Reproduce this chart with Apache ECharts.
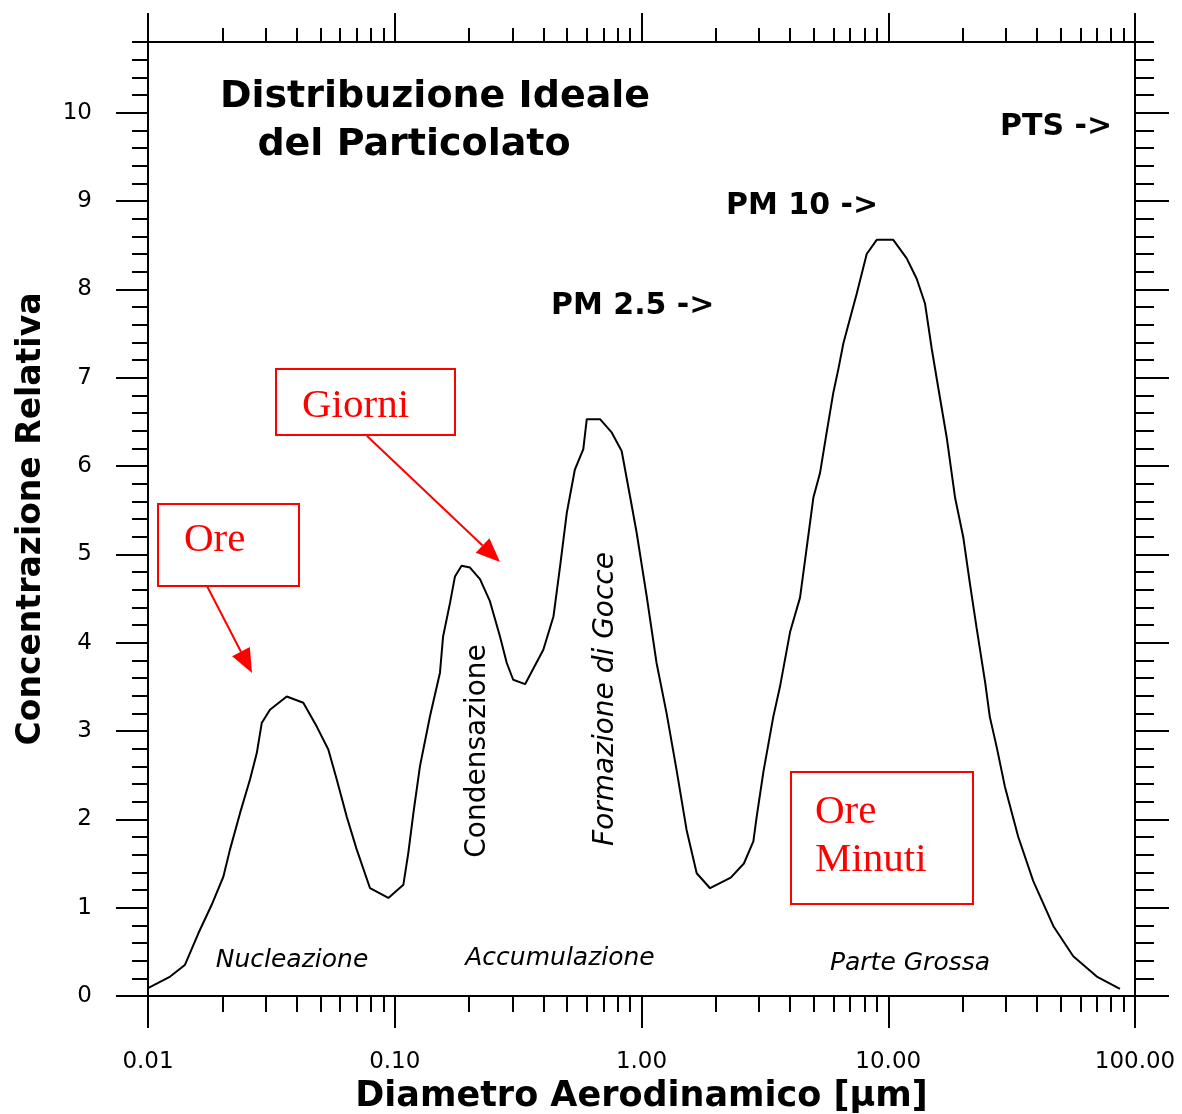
<!DOCTYPE html>
<html>
<head>
<meta charset="utf-8">
<title>Distribuzione Ideale del Particolato</title>
<script src="https://cdn.jsdelivr.net/npm/echarts@6/dist/echarts.min.js"></script>
<style>
  html, body { margin: 0; padding: 0; background: #fff; }
  #chart { width: 1182px; height: 1114px; }
</style>
</head>
<body>
<div id="chart"></div>
<script>
// diametro aerodinamico [um] e concentrazione relativa
var diametro = [
  0.01, 0.0123, 0.0141, 0.016, 0.0181, 0.0202, 0.0215, 0.0236, 0.0259, 0.0276,
  0.0289, 0.0312, 0.0365, 0.0426, 0.0483, 0.0538, 0.0582, 0.0639, 0.0701, 0.0794,
  0.0942, 0.1084, 0.1135, 0.119, 0.1265, 0.139, 0.1525, 0.157, 0.1675, 0.1754,
  0.1866, 0.2018, 0.2215, 0.243, 0.267, 0.2844, 0.302, 0.3374, 0.40, 0.44,
  0.468, 0.498, 0.537, 0.581, 0.60, 0.679, 0.757, 0.831, 0.898, 0.955,
  1.049, 1.151, 1.264, 1.387, 1.523, 1.674, 1.896, 2.3, 2.6, 2.84,
  2.93, 3.12, 3.42, 3.64, 4.0, 4.39, 4.67, 4.97, 5.29, 5.62,
  5.98, 6.28, 6.58, 7.0, 7.45, 8.18, 8.98, 10.48, 11.88, 13.04,
  14.09, 15.0, 15.96, 17.26, 18.66, 20.15, 21.4, 22.8, 24.7, 25.8,
  27.5, 29.7, 33.65, 38.7, 46.7, 56.2, 70, 86.9
];
var concentrazione = [
  0.09, 0.22, 0.35, 0.71, 1.03, 1.35, 1.66, 2.07, 2.45, 2.75,
  3.09, 3.24, 3.39, 3.32, 3.05, 2.79, 2.45, 2.03, 1.66, 1.22,
  1.11, 1.26, 1.62, 2.07, 2.6, 3.17, 3.66, 4.07, 4.45, 4.75,
  4.87, 4.85, 4.72, 4.47, 4.07, 3.77, 3.58, 3.53, 3.92, 4.3,
  4.87, 5.47, 5.96, 6.19, 6.53, 6.53, 6.38, 6.17, 5.66, 5.25,
  4.53, 3.77, 3.2, 2.56, 1.88, 1.39, 1.22, 1.34, 1.5, 1.75,
  2.03, 2.54, 3.16, 3.5, 4.12, 4.51, 5.07, 5.64, 5.92, 6.37,
  6.82, 7.1, 7.39, 7.67, 7.95, 8.4, 8.56, 8.56, 8.35, 8.12,
  7.84, 7.33, 6.88, 6.32, 5.64, 5.19, 4.68, 4.17, 3.55, 3.16,
  2.82, 2.37, 1.8, 1.3, 0.79, 0.45, 0.22, 0.08
];

var yMajor = [0, 1, 2, 3, 4, 5, 6, 7, 8, 9, 10];

// tacche minori: 2..9 per decade (in log10) e ogni 0.2 sulle y
var xMinorLog = [];
[0.01, 0.1, 1, 10].forEach(function (d) {
  for (var k = 2; k <= 9; k++) xMinorLog.push(Math.log10(k * d));
});
var yMinor = [];
for (var i = 1; i <= 54; i++) { if (i % 5 !== 0) yMinor.push(+(i * 0.2).toFixed(1)); }

var font = 'DejaVu Sans';
var lineStyle = { color: '#000', width: 2 };

function arrow(x1, y1, x2, y2) {
  var a = Math.atan2(y2 - y1, x2 - x1), len = 24, w = 10;
  var bx = x2 - len * Math.cos(a), by = y2 - len * Math.sin(a);
  var px = -Math.sin(a) * w, py = Math.cos(a) * w;
  return [
    { type: 'line', shape: { x1: x1, y1: y1, x2: bx, y2: by }, style: { stroke: '#f00', lineWidth: 2 } },
    { type: 'polygon', shape: { points: [[x2, y2], [bx + px, by + py], [bx - px, by - py]] }, style: { fill: '#f00' } }
  ];
}

function box(x, y, w, h) {
  return { type: 'rect', shape: { x: x, y: y, width: w, height: h }, style: { fill: 'none', stroke: '#f00', lineWidth: 2 } };
}

function txt(s, x, y, size, opt) {
  opt = opt || {};
  return {
    type: 'text', x: x, y: y, rotation: opt.rot || 0,
    style: {
      text: s, x: 0, y: 0,
      fontFamily: opt.family || font, fontSize: size,
      fontWeight: opt.bold ? 'bold' : 'normal',
      fontStyle: opt.italic ? 'italic' : 'normal',
      fill: opt.color || '#000',
      align: opt.align || 'center', verticalAlign: 'middle'
    }
  };
}

function minorAxis(pos, len, values, extra) {
  var ax = {
    type: 'value', position: pos,
    axisLine: { show: false, onZero: false },
    axisTick: { show: true, length: len, customValues: values, lineStyle: lineStyle },
    axisLabel: { show: false }, splitLine: { show: false }
  };
  return Object.assign(ax, extra);
}

var chart = echarts.init(document.getElementById('chart'));

var option = {
  backgroundColor: '#fff',
  animation: false,
  grid: { left: 148, right: 47, top: 42, bottom: 118, containLabel: false, outerBoundsMode: 'none' },
  xAxis: [
    {
      type: 'log', logBase: 10, min: 0.01, max: 100, position: 'bottom',
      name: 'Diametro Aerodinamico [\u03bcm]', nameLocation: 'middle', nameGap: 83,
      nameTextStyle: { fontFamily: font, fontSize: 35, fontWeight: 'bold', color: '#000' },
      axisLine: { onZero: false, lineStyle: lineStyle },
      axisTick: { length: 32, lineStyle: lineStyle },
      axisLabel: {
        margin: 55, fontFamily: font, fontSize: 23, color: '#000',
        formatter: function (v) { return (+v).toFixed(2); }
      },
      splitLine: { show: false }
    },
    minorAxis('bottom', 16, xMinorLog, { min: -2, max: 2 }),
    {
      type: 'log', logBase: 10, min: 0.01, max: 100, position: 'top',
      axisLine: { onZero: false, lineStyle: lineStyle },
      axisTick: { length: 29, lineStyle: lineStyle },
      axisLabel: { show: false }, splitLine: { show: false }
    },
    minorAxis('top', 14, xMinorLog, { min: -2, max: 2 })
  ],
  yAxis: [
    {
      type: 'value', min: 0, max: 10.8, position: 'left',
      name: 'Concentrazione Relativa', nameLocation: 'middle', nameGap: 100,
      nameTextStyle: { fontFamily: font, fontSize: 33, fontWeight: 'bold', color: '#000' },
      axisLine: { show: true, onZero: false, lineStyle: lineStyle },
      axisTick: { show: true, length: 32, customValues: yMajor, lineStyle: lineStyle },
      axisLabel: { margin: 56, fontFamily: font, fontSize: 23, color: '#000', customValues: yMajor },
      splitLine: { show: false }
    },
    minorAxis('left', 16, yMinor, { min: 0, max: 10.8 }),
    {
      type: 'value', min: 0, max: 10.8, position: 'right',
      axisLine: { show: true, onZero: false, lineStyle: lineStyle },
      axisTick: { show: true, length: 34, customValues: yMajor, lineStyle: lineStyle },
      axisLabel: { show: false }, splitLine: { show: false }
    },
    minorAxis('right', 19, yMinor, { min: 0, max: 10.8 })
  ],
  series: [{
    type: 'line',
    xAxisIndex: 0, yAxisIndex: 0,
    data: diametro.map(function (d, i) { return [d, concentrazione[i]]; }),
    showSymbol: false,
    smooth: false,
    lineStyle: { color: '#000', width: 2 }
  }],
  graphic: [].concat(
    [
      txt('Distribuzione Ideale', 435, 97, 38, { bold: true }),
      txt('del Particolato', 414, 145, 38, { bold: true }),
      txt('PTS ->', 1000, 127, 30, { bold: true, align: 'left' }),
      txt('PM 10 ->', 726, 206, 30, { bold: true, align: 'left' }),
      txt('PM 2.5 ->', 551, 306, 30, { bold: true, align: 'left' }),
      txt('Nucleazione', 292, 960, 25, { italic: true }),
      txt('Accumulazione', 560, 958, 25, { italic: true }),
      txt('Parte Grossa', 910, 963, 25, { italic: true }),
      txt('Condensazione', 478, 751, 28, { rot: Math.PI / 2 }),
      txt('Formazione di Gocce', 606, 699, 28, { rot: Math.PI / 2, italic: true }),
      box(276, 369, 179, 66),
      box(158, 504, 141, 82),
      box(791, 772, 182, 132),
      txt('Giorni', 302, 406, 41, { family: 'Liberation Serif', color: '#f00', align: 'left' }),
      txt('Ore', 184, 540, 41, { family: 'Liberation Serif', color: '#f00', align: 'left' }),
      txt('Ore', 815, 812, 41, { family: 'Liberation Serif', color: '#f00', align: 'left' }),
      txt('Minuti', 815, 860, 41, { family: 'Liberation Serif', color: '#f00', align: 'left' })
    ],
    arrow(367, 436, 500, 562),
    arrow(207, 586, 252, 673)
  )
};

chart.setOption(option);
</script>
</body>
</html>
